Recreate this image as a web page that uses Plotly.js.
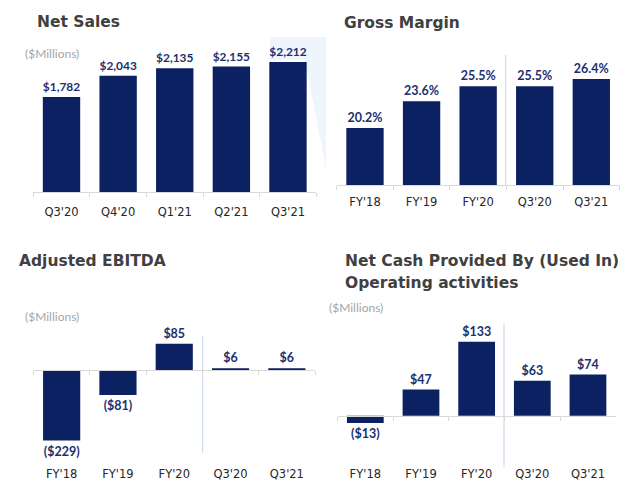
<!DOCTYPE html>
<html>
<head>
<meta charset="utf-8">
<script src="https://cdn.plot.ly/plotly-3.0.1.min.js"></script>
<style>html,body{margin:0;padding:0;background:#fff;}#chart{width:640px;height:495px;}</style>
</head>
<body>
<div id="chart"></div>
<script>
// ---- data ----
const salesCats = ["Q3'20", "Q4'20", "Q1'21", "Q2'21", "Q3'21"];
const salesVals = [1782, 2043, 2135, 2155, 2212];
const salesText = ["$1,782", "$2,043", "$2,135", "$2,155", "$2,212"];

const periodCats = ["FY'18", "FY'19", "FY'20", "Q3'20", "Q3'21"];
const marginVals = [20.2, 23.6, 25.5, 25.5, 26.4];
const marginText = ["20.2%", "23.6%", "25.5%", "25.5%", "26.4%"];

const ebitdaVals = [-229, -81, 85, 6, 6];
const ebitdaText = ["($229)", "($81)", "$85", "$6", "$6"];

const cashVals = [-13, 47, 133, 63, 74];
const cashText = ["($13)", "$47", "$133", "$63", "$74"];

// ---- helpers ----
const W = 640, H = 495;
const px = x => x / W;
const py = y => 1 - y / H;

const BAR = '#0c2161';
const LBL = '#1c2f6e';
const valueFont = {family: 'Lato, sans-serif', size: 12.5, color: LBL, weight: 700};
const tickFont = {family: 'DejaVu Sans, sans-serif', size: 11.5, color: '#262626'};

function barTrace(x, y, text, xa, ya) {
  return {
    type: 'bar', x: x, y: y, text: text, xaxis: xa, yaxis: ya,
    textposition: 'outside', cliponaxis: false, textfont: valueFont,
    marker: {color: BAR, line: {width: 0}}, hoverinfo: 'skip', showlegend: false
  };
}

const data = [
  barTrace(salesCats, salesVals, salesText, 'x', 'y'),
  barTrace(periodCats, marginVals, marginText, 'x2', 'y2'),
  barTrace(periodCats, ebitdaVals, ebitdaText, 'x3', 'y3'),
  barTrace(periodCats, cashVals, cashText, 'x4', 'y4')
];

function xAxis(d0, d1, extra) {
  return Object.assign({
    domain: [px(d0), px(d1)], type: 'category', range: [-0.5, 4.5],
    showline: true, linecolor: '#d9d9d9', linewidth: 1,
    ticks: 'outside', tickson: 'boundaries', ticklen: 4, tickcolor: '#d9d9d9',
    showgrid: false, zeroline: false, tickfont: tickFont, fixedrange: true
  }, extra);
}
function yAxis(top, bottom, r, anchor) {
  return {domain: [py(bottom), py(top)], range: r, visible: false, anchor: anchor,
          showgrid: false, zeroline: false, fixedrange: true};
}

const titleFont = {family: 'DejaVu Sans, sans-serif', size: 15.5, color: '#404040', weight: 700};
const unitFont = {family: 'Lato, sans-serif', size: 12, color: '#a6a6a6'};
function ann(text, x, y, font) {
  return {text: text, x: px(x), y: py(y), xref: 'paper', yref: 'paper',
          xanchor: 'left', yanchor: 'middle', showarrow: false, font: font};
}
function vline(x, y0, y1) {
  return {type: 'line', xref: 'paper', yref: 'paper', x0: px(x), x1: px(x), y0: py(y0), y1: py(y1),
          line: {color: '#c5d3ea', width: 1}, layer: 'below'};
}

const layout = {
  width: W, height: H, margin: {l: 0, r: 0, t: 0, b: 0},
  paper_bgcolor: '#ffffff', plot_bgcolor: 'rgba(0,0,0,0)',
  bargap: 0.34, showlegend: false,
  xaxis: xAxis(33.2, 316.3, {anchor: 'y', ticklabelstandoff: 9}),
  yaxis: yAxis(40, 192, [615, 2482], 'x'),
  xaxis2: xAxis(336.7, 619.6, {anchor: 'y2', ticklabelstandoff: 6}),
  yaxis2: yAxis(40, 185, [13.0, 31.35], 'x2'),
  xaxis3: xAxis(33.5, 315, {anchor: 'free', position: py(370), ticklabelstandoff: 93}),
  yaxis3: yAxis(320, 460, [-292.2, 162.3], 'x3'),
  xaxis4: xAxis(337.5, 615.8, {anchor: 'free', position: py(415.7), ticklabelstandoff: 47}),
  yaxis4: yAxis(320, 460, [-79.8, 172.4], 'x4'),
  annotations: [
    ann('Net Sales', 35, 22, titleFont),
    ann('($Millions)', 23, 53, unitFont),
    ann('Gross Margin', 342, 23, titleFont),
    ann('Adjusted EBITDA', 17, 261, titleFont),
    ann('($Millions)', 23, 316, unitFont),
    ann('Net Cash Provided By (Used In)', 343, 261, titleFont),
    ann('Operating activities', 343, 283, titleFont),
    ann('($Millions)', 327, 307, unitFont)
  ],
  shapes: [
    {type: 'path', xref: 'paper', yref: 'paper', layer: 'below',
     path: 'M ' + px(270) + ' ' + py(37) + ' L ' + px(326) + ' ' + py(37) + ' L ' + px(326) + ' ' + py(168) +
           ' L ' + px(305) + ' ' + py(60) + ' L ' + px(270) + ' ' + py(60) + ' Z',
     fillcolor: '#eef5fd', line: {width: 0}},
    vline(505.7, 55, 185),
    vline(202.7, 336, 453),
    vline(504, 324, 467)
  ]
};

Plotly.newPlot('chart', data, layout, {displayModeBar: false, staticPlot: true});
</script>
</body>
</html>
